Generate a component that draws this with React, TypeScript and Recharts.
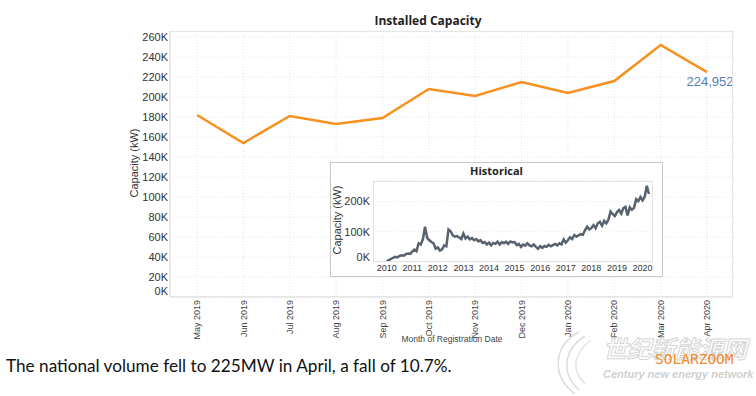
import { LineChart, Line, XAxis, YAxis, CartesianGrid, LabelList } from "recharts";

// main chart: last 12 months (kW)
const months = [
  "May 2019", "Jun 2019", "Jul 2019", "Aug 2019", "Sep 2019", "Oct 2019",
  "Nov 2019", "Dec 2019", "Jan 2020", "Feb 2020", "Mar 2020", "Apr 2020",
];
const capacity = [
  182000, 154000, 181000, 173000, 179000, 208000,
  201000, 215000, 204000, 216000, 252000, 224952,
];
const yTicks = [0, 20000, 40000, 60000, 80000, 100000, 120000, 140000, 160000, 180000, 200000, 220000, 240000, 260000];

// inset: monthly history Jan 2010 .. Apr 2020, in thousands of kW
const histValues = [
  2, 6, 10, 14, 17, 15, 20, 22, 21, 26, 28, 27,
  34, 41, 36, 62, 58, 75, 117, 80, 72, 66, 62, 44,
  48, 38, 42, 55, 52, 108, 102, 88, 84, 86, 81, 76,
  94, 78, 84, 75, 79, 72, 76, 68, 72, 63, 66, 58,
  64, 55, 63, 60, 67, 58, 66, 62, 67, 60, 68, 65,
  66, 56, 60, 50, 58, 54, 62, 55, 52, 58, 50, 44,
  52, 47, 53, 50, 57, 52, 56, 60, 55, 62, 58, 75,
  64, 72, 82, 76, 89, 84, 88, 92, 90, 105, 117, 108,
  112, 122, 112, 128, 133, 120, 136, 128, 140, 167, 158, 152,
  165, 172, 160, 178, 182, 154, 181, 173, 179, 208, 201, 215,
  204, 216, 252, 225,
];
const histStartYear = 2010;
const histYearTicks = [0, 12, 24, 36, 48, 60, 72, 84, 96, 108, 120];
const histYTicks = [0, 100000, 200000];

const mainData = months.map((m, i) => ({ month: m, value: capacity[i] }));
const histData = histValues.map((v, i) => ({ m: i, value: v * 1000 }));

const SANS = "'Liberation Sans', Arial, sans-serif";
const fmtK = (v: number) => `${v / 1000}K`;

function MainYTick({ x, y, payload }: any) {
  return (
    <text x={x} y={payload.value === 0 ? y - 6 : y} dy="0.35em" textAnchor="end" fontSize={11} fill="#333" fontFamily={SANS}>
      {fmtK(payload.value)}
    </text>
  );
}

function MainXTick({ x, y, payload }: any) {
  return (
    <text
      x={x}
      y={y}
      transform={`rotate(-90, ${x}, ${y})`}
      dy="0.35em"
      textAnchor="end"
      fontSize={9}
      fill="#444"
      fontFamily={SANS}
    >
      {payload.value}
    </text>
  );
}

function HistYTick({ x, y, payload }: any) {
  return (
    <text x={x} y={payload.value === 0 ? y - 5 : y} dy="0.35em" textAnchor="end" fontSize={11} fill="#333" fontFamily={SANS}>
      {fmtK(payload.value)}
    </text>
  );
}

function LastLabel(props: any) {
  const { x, y, value } = props;
  if (value !== capacity[capacity.length - 1]) return null;
  return (
    <text x={x + 3} y={y + 14} textAnchor="middle" fontSize={13} fill="#4f7fb8" fontFamily={SANS}>
      {value.toLocaleString("en-US")}
    </text>
  );
}

function rotLabel(text: string, cx: number, cy: number, size: number) {
  return (
    <div
      style={{
        position: "absolute",
        left: cx,
        top: cy,
        transform: "translate(-50%, -50%) rotate(-90deg)",
        whiteSpace: "nowrap",
        fontFamily: SANS,
        fontSize: size,
        color: "#333",
      }}
    >
      {text}
    </div>
  );
}

export default function App() {
  return (
    <div style={{ position: "absolute", left: 0, top: 0, width: 756, height: 396, background: "#fff", overflow: "hidden" }}>
      <div
        style={{
          position: "absolute",
          left: 0,
          width: 856,
          top: 12,
          textAlign: "center",
          fontFamily: "'Open Sans', sans-serif",
          fontWeight: 700,
          fontSize: 12,
          color: "#222",
        }}
      >
        Installed Capacity
      </div>

      <div style={{ position: "absolute", left: 0, top: 0 }}>
        <LineChart width={756} height={396} data={mainData} margin={{ top: 31, right: 23, left: 130, bottom: 49 }}>
          <CartesianGrid stroke="#e4e4e4" strokeDasharray="1 2" />
          <XAxis
            dataKey="month"
            padding={{ left: 27, right: 26 }}
            height={50}
            tick={<MainXTick />}
            tickLine={false}
            tickSize={0}
            axisLine={{ stroke: "#ddd" }}
            tickMargin={3}
            interval={0}
          />
          <YAxis
            width={40}
            domain={[0, 266000]}
            ticks={yTicks}
            tick={<MainYTick />}
            tickLine={false}
            tickSize={0}
            axisLine={{ stroke: "#ddd" }}
            tickMargin={2}
            interval={0}
          />
          <Line
            type="linear"
            dataKey="value"
            stroke="#f7901e"
            strokeWidth={2.5}
            dot={false}
            isAnimationActive={false}
          >
            <LabelList dataKey="value" content={<LastLabel />} />
          </Line>
        </LineChart>
      </div>
      <div style={{ position: "absolute", left: 170, top: 31, width: 563, height: 266, border: "1px solid #e6e6e6", boxSizing: "border-box", pointerEvents: "none" }} />

      {rotLabel("Capacity (kW)", 134, 163, 11)}
      <div style={{ position: "absolute", left: 352, width: 200, top: 334, textAlign: "center", fontFamily: SANS, fontSize: 8.5, color: "#444" }}>
        Month of Registration Date
      </div>

      {/* inset */}
      <div style={{ position: "absolute", left: 330, top: 162, width: 333, height: 115, border: "1px solid #c8c8c8", boxSizing: "border-box", background: "#fff" }}>
        <div
          style={{
            position: "absolute",
            left: 0,
            width: 331,
            top: 0,
            textAlign: "center",
            fontFamily: "'Open Sans', sans-serif",
            fontWeight: 700,
            fontSize: 11,
            color: "#222",
          }}
        >
          Historical
        </div>
        <div style={{ position: "absolute", left: 0, top: 0 }}>
          <LineChart width={331} height={113} data={histData} margin={{ top: 18, right: 9, left: 12, bottom: 2 }}>
            <CartesianGrid stroke="#e8e8e8" strokeDasharray="1 2" vertical={false} />
            <XAxis
              dataKey="m"
              type="number"
              domain={[-6.4, 124.9]}
              ticks={histYearTicks}
              tickFormatter={(m: number) => String(histStartYear + m / 12)}
              height={12}
              tick={{ fontSize: 9, fill: "#333", fontFamily: SANS }}
              tickLine={false}
              tickSize={0}
              axisLine={false}
              tickMargin={3}
              interval={0}
              allowDataOverflow
            />
            <YAxis
              width={30}
              domain={[0, 268000]}
              ticks={histYTicks}
              tick={<HistYTick />}
              tickLine={false}
              tickSize={0}
              axisLine={false}
              tickMargin={3}
              interval={0}
              allowDataOverflow
            />
            <Line
              type="linear"
              dataKey="value"
              stroke="#58626e"
              strokeWidth={2.5}
              dot={false}
              isAnimationActive={false}
            />
          </LineChart>
        </div>
        <div style={{ position: "absolute", left: 42, top: 18, width: 280, height: 81, border: "1px solid #e2e2e2", boxSizing: "border-box" }} />
        {rotLabel("Capacity (kW)", 6, 57, 11)}
      </div>

      <div style={{ position: "absolute", left: 6, top: 355, fontFamily: "Lato, sans-serif", fontSize: 17.2, color: "#111", whiteSpace: "nowrap" }}>
        The national volume fell to 225MW in April, a fall of 10.7%.
      </div>

      {/* watermark */}
      <svg style={{ position: "absolute", left: 545, top: 328 }} width={60} height={68}>
        <path d="M34 4 C8 18 6 48 30 66" fill="none" stroke="#ddd" strokeWidth={1.5} />
        <path d="M40 8 C18 22 16 46 34 62" fill="none" stroke="#ddd" strokeWidth={1.5} />
        <path d="M46 12 C28 26 26 42 40 56" fill="none" stroke="#e4e4e4" strokeWidth={1.5} />
      </svg>
      <div
        style={{
          position: "absolute",
          left: 603,
          top: 336,
          fontFamily: "'Noto Sans CJK SC', sans-serif",
          fontWeight: 700,
          fontSize: 24,
          lineHeight: "24px",
          color: "#fff",
          WebkitTextStroke: "1px #d6d6d6",
          fontStyle: "italic",
          whiteSpace: "nowrap",
        }}
      >
        世纪新能源网
      </div>
      <div style={{ position: "absolute", left: 655, top: 353, fontFamily: "'DejaVu Sans Mono', monospace", fontSize: 14.5, lineHeight: "13px", color: "#f08a2a", whiteSpace: "nowrap" }}>
        SOLARZOOM
      </div>
      <div style={{ position: "absolute", left: 603, top: 369, fontFamily: SANS, fontStyle: "italic", fontWeight: 700, fontSize: 11, lineHeight: "11px", color: "#d0d0d0", whiteSpace: "nowrap" }}>
        Century new energy network
      </div>
    </div>
  );
}
